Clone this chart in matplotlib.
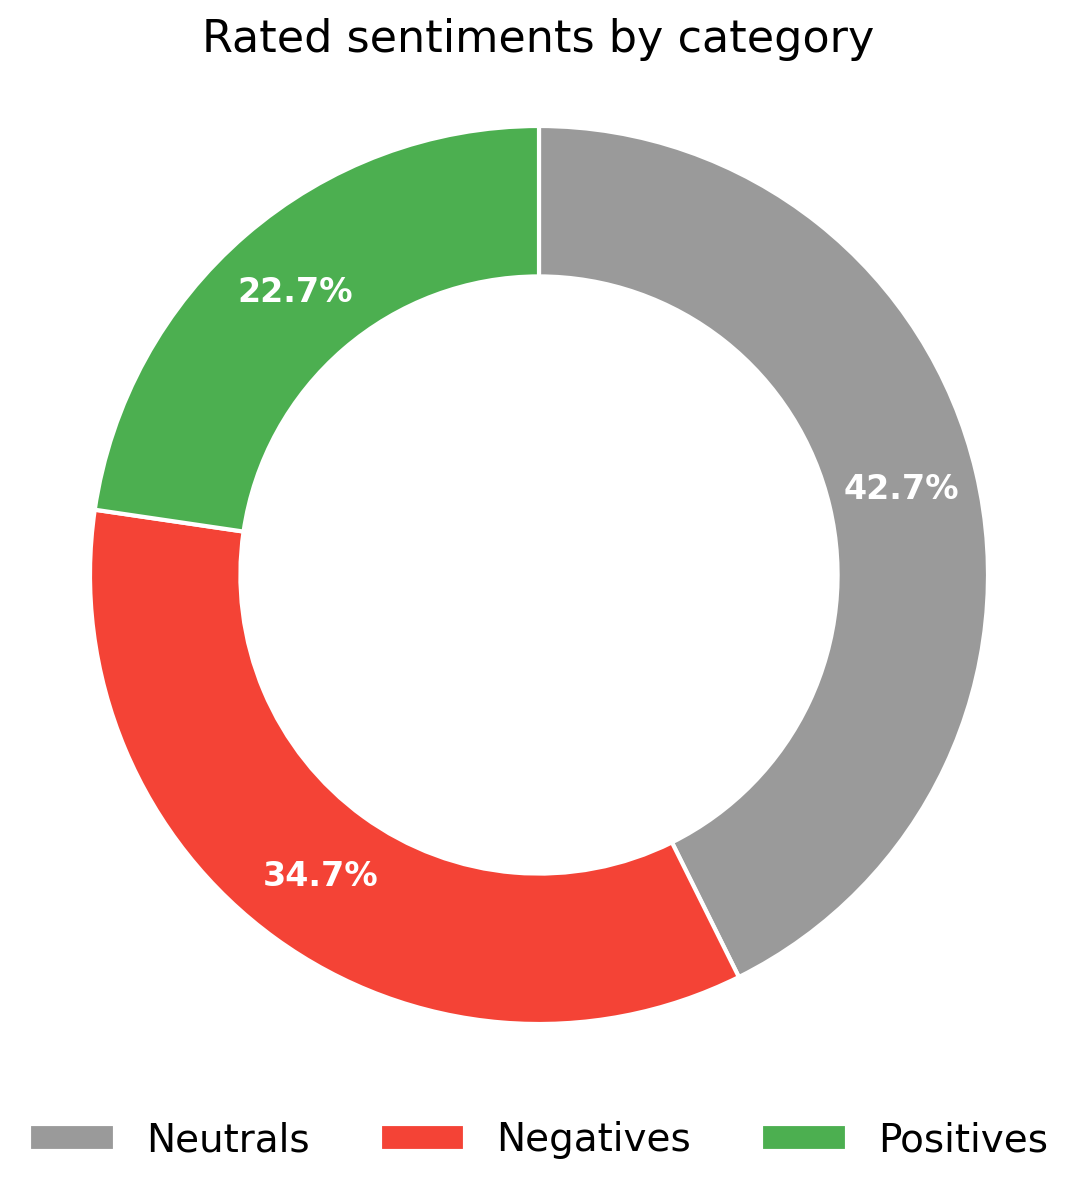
import matplotlib
matplotlib.use("Agg")
import matplotlib.pyplot as plt

categories = ["Neutrals", "Negatives", "Positives"]
values = [42.7, 34.7, 22.7]
colors = ["#9a9a9a", "#f44336", "#4caf50"]

fig = plt.figure(figsize=(5.385, 6), dpi=200)
W, H = 1077, 1200
cx, cy, r = 539, 575, 449
ax = fig.add_axes([(cx - r) / W, (H - cy - r) / H, 2 * r / W, 2 * r / H])
wedges, texts, autotexts = ax.pie(
    values, colors=colors, startangle=90, counterclock=False,
    autopct="%.1f%%", pctdistance=0.83,
    wedgeprops=dict(width=0.335, edgecolor="white", linewidth=1.5),
    textprops=dict(color="white", fontsize=12, fontweight="bold"))
ax.set_xlim(-1, 1)
ax.set_ylim(-1, 1)
ax.set_aspect("equal")
ax.axis("off")
fig.suptitle("Rated sentiments by category", fontsize=16, y=0.985)
fig.legend(wedges, categories, loc="lower center", ncol=3, frameon=False,
           fontsize=14, bbox_to_anchor=(0.5, 0.005), handlelength=2.2,
           columnspacing=1.8)
fig.savefig("out.png", dpi=200, facecolor="white")
